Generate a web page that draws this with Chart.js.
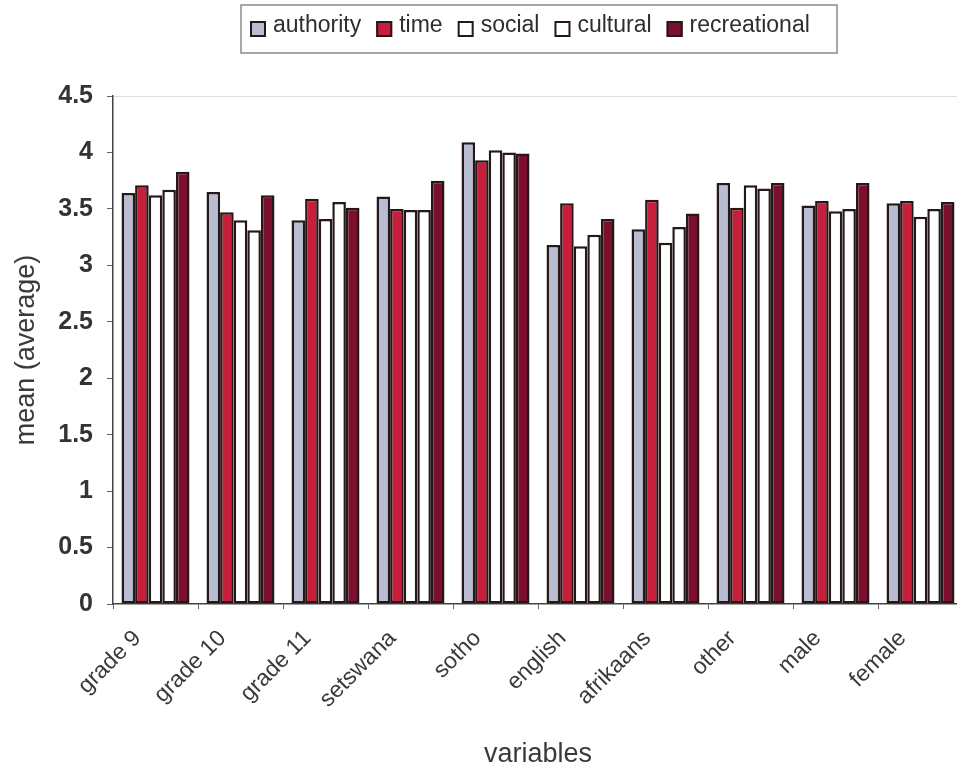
<!DOCTYPE html>
<html>
<head>
<meta charset="utf-8">
<title>Mean scores by variable</title>
<script src="https://cdn.jsdelivr.net/npm/chart.js@4.4.1/dist/chart.umd.min.js"></script>
<style>
  html, body { margin: 0; padding: 0; background: #fff; overflow: hidden; }
  #wrap { position: relative; width: 963px; height: 771px; }
</style>
</head>
<body>
<div id="wrap"><canvas id="chart" width="963" height="771"></canvas></div>
<script>
// Categories along the x axis
const categories = ['grade 9', 'grade 10', 'grade 11', 'setswana', 'sotho',
                    'english', 'afrikaans', 'other', 'male', 'female'];

// Mean score per category for each factor
const authority    = [3.64, 3.65, 3.40, 3.61, 4.09, 3.18, 3.32, 3.73, 3.53, 3.55];
const time         = [3.71, 3.47, 3.59, 3.50, 3.93, 3.55, 3.58, 3.51, 3.57, 3.57];
const social       = [3.62, 3.40, 3.41, 3.49, 4.02, 3.17, 3.20, 3.71, 3.48, 3.43];
const cultural     = [3.67, 3.31, 3.56, 3.49, 4.00, 3.27, 3.34, 3.68, 3.50, 3.50];
const recreational = [3.83, 3.62, 3.51, 3.75, 3.99, 3.41, 3.46, 3.73, 3.73, 3.56];

// Value axis range and step
const yMin = 0, yMax = 4.5, yStep = 0.5;

const FONT = '"Liberation Sans", Arial, Helvetica, sans-serif';
const EDGE = '#261818';

function series(label, data, fill) {
  return {
    label, data,
    backgroundColor: fill,
    borderColor: EDGE,
    borderWidth: 2.5,
    borderSkipped: false,
    categoryPercentage: 0.8,
    barPercentage: 1.0
  };
}

// Boxed legend across the top, drawn from the datasets
const boxedLegend = {
  id: 'boxedLegend',
  afterDraw(chart) {
    const ctx = chart.ctx;
    const box = { left: 241, top: 5, right: 837, bottom: 53 };
    ctx.save();
    ctx.strokeStyle = '#8a8a8a';
    ctx.lineWidth = 1.5;
    ctx.strokeRect(box.left, box.top, box.right - box.left, box.bottom - box.top);
    ctx.font = '23px ' + FONT;
    ctx.textBaseline = 'alphabetic';
    ctx.textAlign = 'left';
    const sq = 16, textGap = 7, itemGap = 15, baseline = 32;
    let x = 250;
    chart.data.datasets.forEach(ds => {
      ctx.fillStyle = ds.backgroundColor;
      ctx.fillRect(x, 21, sq, sq);
      ctx.strokeStyle = EDGE;
      ctx.lineWidth = 2;
      ctx.strokeRect(x + 1, 22, sq - 2, sq - 2);
      x += sq + textGap;
      ctx.fillStyle = '#2e2e2e';
      ctx.fillText(ds.label, x, baseline);
      x += ctx.measureText(ds.label).width + itemGap;
    });
    ctx.restore();
  }
};

new Chart(document.getElementById('chart'), {
  type: 'bar',
  data: {
    labels: categories,
    datasets: [
      series('authority', authority, '#b9bdd2'),
      series('time', time, '#c71f3b'),
      series('social', social, '#ffffff'),
      series('cultural', cultural, '#ffffff'),
      series('recreational', recreational, '#7b0f2e')
    ]
  },
  options: {
    responsive: false,
    animation: false,
    devicePixelRatio: 1,
    layout: { padding: { top: 96, left: 0, right: 0, bottom: 0 } },
    plugins: {
      legend: { display: false },
      tooltip: { enabled: false }
    },
    scales: {
      x: {
        offset: true,
        grid: {
          offset: true,
          drawOnChartArea: false,
          drawTicks: true,
          tickLength: 5,
          tickColor: '#666'
        },
        border: { display: true, color: '#444', width: 1.5 },
        ticks: {
          minRotation: 45,
          maxRotation: 45,
          autoSkip: false,
          padding: 16,
          labelOffset: -18,
          color: '#3a3a3a',
          font: { family: FONT, size: 23 }
        },
        title: {
          display: true,
          text: 'variables',
          color: '#3a3a3a',
          font: { family: FONT, size: 27 },
          padding: { top: 4, bottom: 0 }
        },
        afterFit(scale) { scale.height = 167; }
      },
      y: {
        min: yMin,
        max: yMax,
        ticks: {
          stepSize: yStep,
          padding: 14,
          color: '#333',
          font: { family: FONT, size: 25, weight: 'bold' },
          callback: value => String(Number(value))
        },
        grid: {
          drawOnChartArea: true,
          color: ctx => (ctx.tick && ctx.tick.value === yMax) ? 'rgba(0,0,0,0.13)' : 'rgba(0,0,0,0)',
          drawTicks: true,
          tickLength: 6,
          tickColor: '#666'
        },
        border: { display: true, color: '#444', width: 1.5 },
        title: {
          display: true,
          text: 'mean (average)',
          color: '#3a3a3a',
          font: { family: FONT, size: 27 },
          padding: { top: 10, bottom: 0 }
        },
        afterFit(scale) { scale.width = 113; }
      }
    }
  },
  plugins: [boxedLegend]
});
</script>
</body>
</html>
